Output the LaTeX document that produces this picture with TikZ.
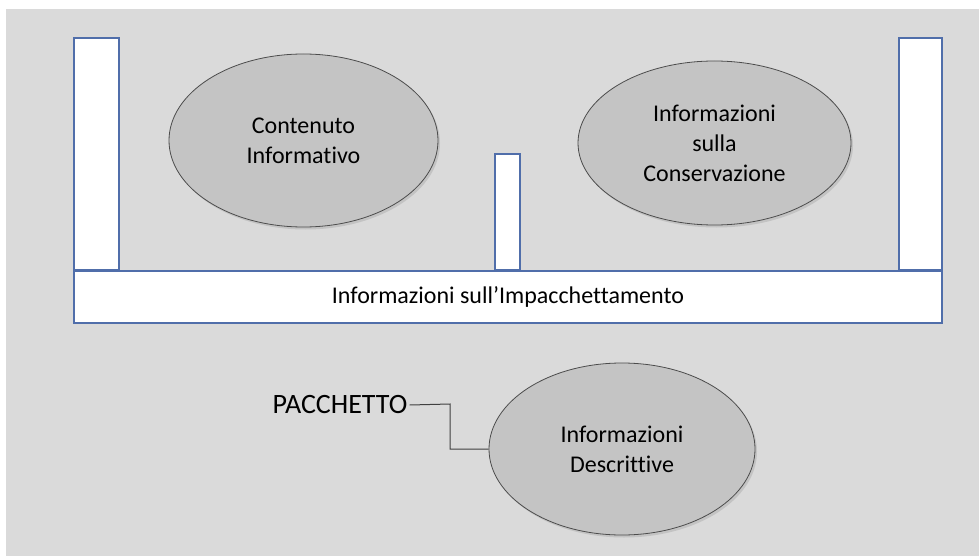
\documentclass[tikz,border=0pt]{standalone}
\usepackage{fontspec}
\setmainfont{Carlito}[Ligatures=NoCommon]
\usetikzlibrary{shapes.geometric,shadows}
\definecolor{sfondo}{RGB}{218,218,218}
\definecolor{bolla}{RGB}{196,196,196}
\definecolor{bordo}{RGB}{80,110,170}
\begin{document}
\begin{tikzpicture}
  [x=1pt, y=-1pt,
   every node/.style={font=\fontsize{24}{30}\selectfont},
   pilastro/.style={draw=bordo, line width=1.3pt, fill=white, inner sep=0pt},
   bolla/.style={ellipse, draw=black!70, line width=0.8pt, fill=bolla, inner sep=0pt,
     align=center, drop shadow={shadow xshift=2pt, shadow yshift=-2.5pt, opacity=0.25}}]
  \useasboundingbox[fill=white] (0,0) rectangle (979,556);
  \fill[sfondo] (6,9) rectangle (979,556);
  \node[pilastro, minimum width=45pt, minimum height=232pt] (sinistro) at (96.5,154) {};
  \node[pilastro, minimum width=43pt, minimum height=232pt] (destro) at (920.5,154) {};
  \node[pilastro, minimum width=25pt, minimum height=116pt] (centrale) at (507.5,212) {};
  \node[pilastro, minimum width=868pt, minimum height=52pt] (impacchettamento) at (508,297)
    {Informazioni sull’Impacchettamento};
  \node[bolla, minimum width=269pt, minimum height=173pt] (contenuto) at (303.5,140.5)
    {Contenuto\\Informativo};
  \node[bolla, minimum width=273pt, minimum height=164pt] (conservazione) at (714.5,143)
    {Informazioni\\sulla\\Conservazione};
  \node[bolla, minimum width=266pt, minimum height=172pt] (descrittive) at (622,449)
    {Informazioni\\Descrittive};
  \node[font=\fontsize{28}{34}\selectfont, inner sep=2pt] (pacchetto) at (340,405) {PACCHETTO};
  \coordinate (gomito) at (450,404);
  \draw[black!75, line width=1pt] (pacchetto.east) -- (gomito) |- (descrittive.west);
\end{tikzpicture}
\end{document}
